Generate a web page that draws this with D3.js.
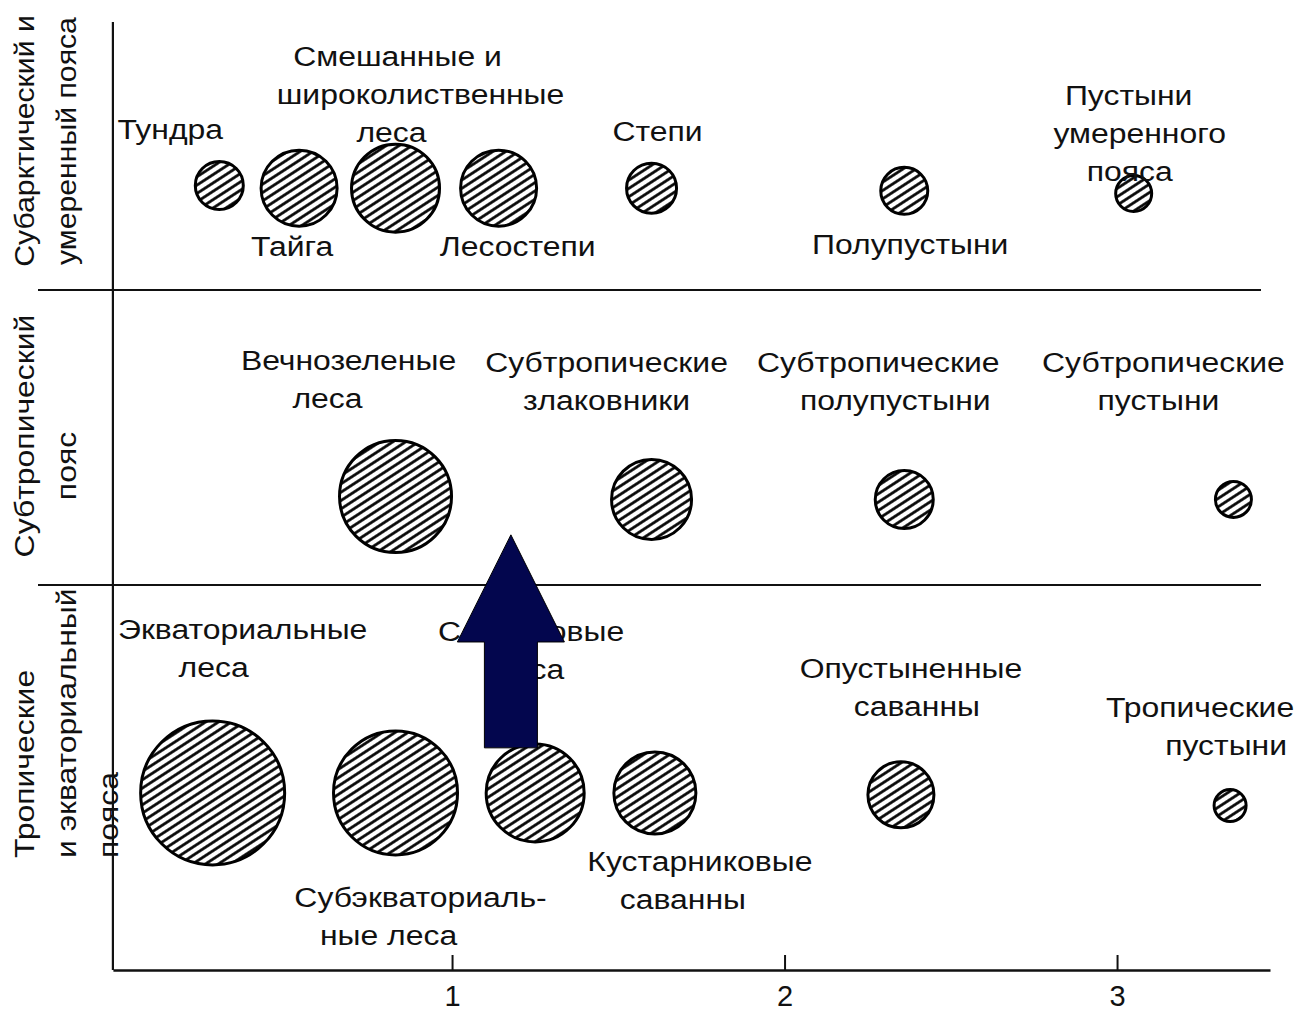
<!DOCTYPE html>
<html>
<head>
<meta charset="utf-8">
<script src="https://cdn.jsdelivr.net/npm/d3@7"></script>
<style>
  html, body { margin: 0; padding: 0; background: #fff; }
  svg { display: block; }
  text { font-family: "Liberation Sans", Arial, sans-serif; fill: #111; }
</style>
</head>
<body>
<svg id="chart" width="1303" height="1013"></svg>
<script>
// zones (bottom to top), labels split into lines
const zoneLines = [
  ["Тропические", "и экваториальный", "пояса"],
  ["Субтропический", "пояс"],
  ["Субарктический и", "умеренный пояса"]
];

// biomes
const biomeNames = [
  ["Тундра"], ["Тайга"], ["Смешанные и", "широколиственные", "леса"], ["Лесостепи"],
  ["Степи"], ["Полупустыни"], ["Пустыни", "умеренного", "пояса"],
  ["Вечнозеленые", "леса"], ["Субтропические", "злаковники"],
  ["Субтропические", "полупустыни"], ["Субтропические", "пустыни"],
  ["Экваториальные", "леса"], ["Субэкваториаль-", "ные леса"], ["Саванновые", "леса"],
  ["Кустарниковые", "саванны"], ["Опустыненные", "саванны"], ["Тропические", "пустыни"]
];
const biomeZone = [2, 2, 2, 2, 2, 2, 2, 1, 1, 1, 1, 0, 0, 0, 0, 0, 0];
const biomeX    = [0.30, 0.54, 0.83, 1.14, 1.60, 2.36, 3.05,
                   0.83, 1.60, 2.36, 3.35,
                   0.28, 0.83, 1.25, 1.61, 2.35, 3.34];
const biomeY    = [2.39, 2.38, 2.38, 2.38, 2.38, 2.37, 2.36,
                   1.30, 1.29, 1.29, 1.29,
                   0.46, 0.46, 0.46, 0.46, 0.455, 0.427];
const biomeSize = [2.4, 3.8, 4.4, 3.8, 2.5, 2.35, 1.8,
                   5.6, 4.0, 2.9, 1.8,
                   7.2, 6.2, 4.9, 4.1, 3.3, 1.6];
const xTicks = [1, 2, 3];

// label placement (px offsets from the circle centre): first baseline, per-line centre
const labelDy = [-46, 68, -122, 68, -47, 63, -89,
                 -127, -127, -127, -127,
                 -154, 114, -152, 78, -117, -89];
const labelDx = [[-49], [-7], [2, 25, -4], [19], [6], [6], [-5, 6, -4],
                 [-47, -68], [-45, -45], [-26, -9], [-70, -75],
                 [30, 1], [25, -7], [-4, -6], [45, 28], [10, 16], [-30, -4]];
const lineH = 38;
const stretch = 1.14; // the scan's type is wider than Liberation Sans
const zoneStretch = [1.14, 1.14, 1.08];

const svg = d3.select('#chart');

const x = d3.scaleLinear().domain([-0.02, 3.46]).range([112.9, 1270]);
// zone boundaries: 0 = bottom axis, 3 = top of the frame
const y = d3.scaleLinear().domain([0, 1, 2, 3]).range([970, 585, 290, 22]);
const r = d3.scaleLinear().domain([0, 10]).range([0, 100]);

// hatch pattern
const defs = svg.append('defs');
const pat = defs.append('pattern')
  .attr('id', 'hatch')
  .attr('patternUnits', 'userSpaceOnUse')
  .attr('width', 7).attr('height', 7)
  .attr('patternTransform', 'rotate(-33)');
pat.append('rect').attr('width', 7).attr('height', 7).attr('fill', '#fff');
pat.append('line').attr('x1', 0).attr('x2', 7).attr('y1', 3.5).attr('y2', 3.5)
  .attr('stroke', '#000').attr('stroke-width', 2.7);

// frame: vertical axis + zone separators
svg.append('line')
  .attr('x1', x(-0.02)).attr('x2', x(-0.02))
  .attr('y1', y(3)).attr('y2', y(0))
  .attr('stroke', '#111').attr('stroke-width', 2.2);

svg.selectAll('line.sep')
  .data([1, 2])
  .enter().append('line')
  .attr('class', 'sep')
  .attr('x1', 38).attr('x2', 1261)
  .attr('y1', d => y(d)).attr('y2', d => y(d))
  .attr('stroke', '#111').attr('stroke-width', 2.2);

// bottom axis
const axis = svg.append('g')
  .attr('transform', 'translate(0,' + y(0) + ')')
  .call(d3.axisBottom(x).tickValues(xTicks).tickSize(-15).tickSizeOuter(0).tickPadding(15).tickFormat(d3.format('d')));
axis.select('.domain').attr('stroke', '#111').attr('stroke-width', 2.4);
axis.selectAll('.tick line').attr('stroke', '#111').attr('stroke-width', 2);
axis.selectAll('.tick text')
  .attr('fill', '#111')
  .style('font-family', '"Liberation Sans", Arial, sans-serif')
  .style('font-size', '29px');

// zone labels (rotated)
const zoneCenter = [null, 436, 141];
zoneLines.forEach((lines, zi) => {
  lines.forEach((ln, li) => {
    let t = svg.append('text')
      .attr('font-size', 28)
      .text(ln);
    let cx = 34 + li * 42;
    let sc = ' scale(' + zoneStretch[zi] + ',1)';
    if (zi === 0) {
      // bottom aligned
      t.attr('text-anchor', 'start')
       .attr('transform', 'translate(' + cx + ',858) rotate(-90)' + sc);
    } else {
      let cy = zi === 1 && li === 1 ? 466 : zoneCenter[zi];
      t.attr('text-anchor', 'middle')
       .attr('transform', 'translate(' + cx + ',' + cy + ') rotate(-90)' + sc);
    }
  });
});

// circles
const idx = d3.range(biomeNames.length);
svg.selectAll('circle.biome')
  .data(idx)
  .enter().append('circle')
  .attr('class', 'biome')
  .attr('cx', i => x(biomeX[i]))
  .attr('cy', i => y(biomeY[i]))
  .attr('r', i => r(biomeSize[i]))
  .attr('fill', 'url(#hatch)')
  .attr('stroke', '#000')
  .attr('stroke-width', 3);

// labels
idx.forEach(i => {
  biomeNames[i].forEach((ln, li) => {
    let tx = x(biomeX[i]) + labelDx[i][li],
        ty = y(biomeY[i]) + labelDy[i] + li * lineH;
    svg.append('text')
      .attr('text-anchor', 'middle')
      .attr('font-size', 28)
      .attr('transform', 'translate(' + tx + ',' + ty + ') scale(' + stretch + ',1)')
      .text(ln);
  });
});

// arrow annotation
const arrow = { x: 1.177, tip: 1.17, head: 0.852, base: 0.577, headW: 53.5, shaftW: 26.5 };
const ax = x(arrow.x);
const pts = [
  [ax, y(arrow.tip)],
  [ax + arrow.headW, y(arrow.head)],
  [ax + arrow.shaftW, y(arrow.head)],
  [ax + arrow.shaftW, y(arrow.base)],
  [ax - arrow.shaftW, y(arrow.base)],
  [ax - arrow.shaftW, y(arrow.head)],
  [ax - arrow.headW, y(arrow.head)]
];
svg.append('path')
  .attr('d', d3.line()(pts) + 'Z')
  .attr('fill', '#03064e')
  .attr('stroke', '#000')
  .attr('stroke-width', 1);
</script>
</body>
</html>
